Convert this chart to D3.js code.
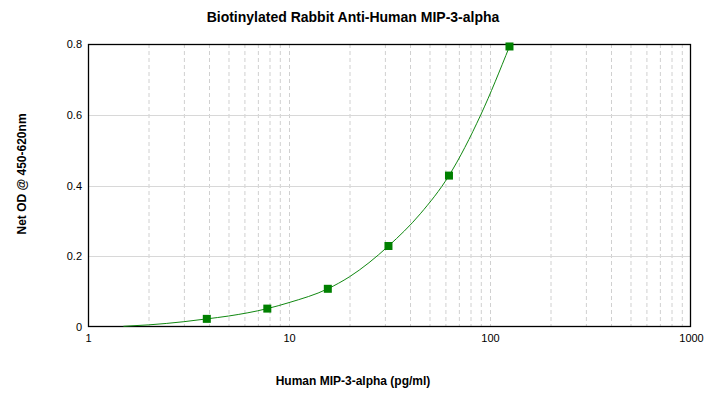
<!DOCTYPE html>
<html>
<head>
<meta charset="utf-8">
<script src="https://cdn.jsdelivr.net/npm/d3@7"></script>
<style>
  body { margin: 0; background: #fff; }
  text { font-family: Arial, "Liberation Sans", sans-serif; }
</style>
</head>
<body>
<div id="chart"></div>
<script>
// standards (pg/ml) and measured OD
let conc = [3.9, 7.8, 15.6, 31.25, 62.5, 125];
let od = [0.023, 0.052, 0.108, 0.229, 0.428, 0.793];

// fitted curve
let fitX = [1.5, 2, 3, 3.9, 5, 7.8, 10, 15.6, 20, 31.25, 45, 62.5, 90, 125];
let fitY = [0.002, 0.006, 0.015, 0.023, 0.031, 0.052, 0.069, 0.108, 0.142, 0.229, 0.32, 0.428, 0.6, 0.793];

let xTicks = [1, 10, 100, 1000];
let yTicks = [0, 0.2, 0.4, 0.6, 0.8];

let svgW = 709;
let svgH = 411;

let margin = { left: 88, right: 18, top: 44, bottom: 84 };
let chartW = svgW - margin.left - margin.right;
let chartH = svgH - margin.top - margin.bottom;

let x = d3.scaleLog()
  .domain([1, 1000])
  .range([0, chartW]);

let y = d3.scaleLinear()
  .domain([0, 0.8])
  .range([chartH, 0]);

let svg = d3.select("#chart")
  .append("svg")
  .attr("width", svgW)
  .attr("height", svgH);

let group = svg.append("g")
  .attr("transform", `translate(${margin.left},${margin.top})`);

// vertical minor/major grid, dashed
let minor = [];
[1, 10, 100].forEach(d => {
  for (let k = 2; k <= 10; k++) minor.push(d * k);
});
minor = minor.filter(v => v < 1000);

group.append("g")
  .selectAll("line")
  .data(minor)
  .enter()
  .append("line")
  .attr("x1", d => x(d) + 0.5)
  .attr("x2", d => x(d) + 0.5)
  .attr("y1", 0)
  .attr("y2", chartH)
  .attr("stroke", "#d0d0d0")
  .attr("stroke-dasharray", "4,3");

// horizontal grid
group.append("g")
  .selectAll("line")
  .data(yTicks.slice(1, -1))
  .enter()
  .append("line")
  .attr("x1", 0)
  .attr("x2", chartW)
  .attr("y1", d => Math.round(y(d)) + 0.5)
  .attr("y2", d => Math.round(y(d)) + 0.5)
  .attr("stroke", "#d8d8d8");

// axes
let xAxis = d3.axisBottom(x)
  .tickValues(xTicks)
  .tickFormat(d3.format("d"))
  .tickSize(0)
  .tickPadding(7);

let yAxis = d3.axisLeft(y)
  .tickValues(yTicks)
  .tickFormat(d => d === 0 ? "0" : d3.format(".1f")(d))
  .tickSize(0)
  .tickPadding(6);

group.append("g")
  .attr("class", "x axis")
  .attr("transform", `translate(0, ${chartH})`)
  .call(xAxis)
  .call(g => g.select(".domain").remove())
  .selectAll("text")
  .attr("font-size", 11)
  .attr("fill", "#000");

group.append("g")
  .attr("class", "y axis")
  .call(yAxis)
  .call(g => g.select(".domain").remove())
  .selectAll("text")
  .attr("font-size", 11)
  .attr("fill", "#000");

// frame
group.append("rect")
  .attr("x", 0.5)
  .attr("y", 0.5)
  .attr("width", chartW - 1)
  .attr("height", chartH - 1)
  .attr("fill", "none")
  .attr("stroke", "#000")
  .attr("stroke-width", 1.3);

// fitted curve
let line = d3.line()
  .x((d, i) => x(fitX[i]))
  .y(d => y(d))
  .curve(d3.curveMonotoneX);

group.append("path")
  .attr("d", line(fitY))
  .attr("fill", "none")
  .attr("stroke", "#118811")
  .attr("stroke-width", 1);

// standards
group.selectAll("rect.pt")
  .data(conc)
  .enter()
  .append("rect")
  .attr("class", "pt")
  .attr("x", d => x(d) - 4)
  .attr("y", (d, i) => y(od[i]) - 4)
  .attr("width", 8)
  .attr("height", 8)
  .attr("fill", "#008000");

// titles
svg.append("text")
  .attr("x", 353)
  .attr("y", 22)
  .attr("text-anchor", "middle")
  .attr("font-size", 14)
  .attr("font-weight", "bold")
  .text("Biotinylated Rabbit Anti-Human MIP-3-alpha");

svg.append("text")
  .attr("x", 353)
  .attr("y", 385)
  .attr("text-anchor", "middle")
  .attr("font-size", 12)
  .attr("font-weight", "bold")
  .text("Human MIP-3-alpha (pg/ml)");

svg.append("text")
  .attr("transform", "translate(26, 174) rotate(-90)")
  .attr("text-anchor", "middle")
  .attr("font-size", 12)
  .attr("font-weight", "bold")
  .text("Net OD @ 450-620nm");
</script>
</body>
</html>
